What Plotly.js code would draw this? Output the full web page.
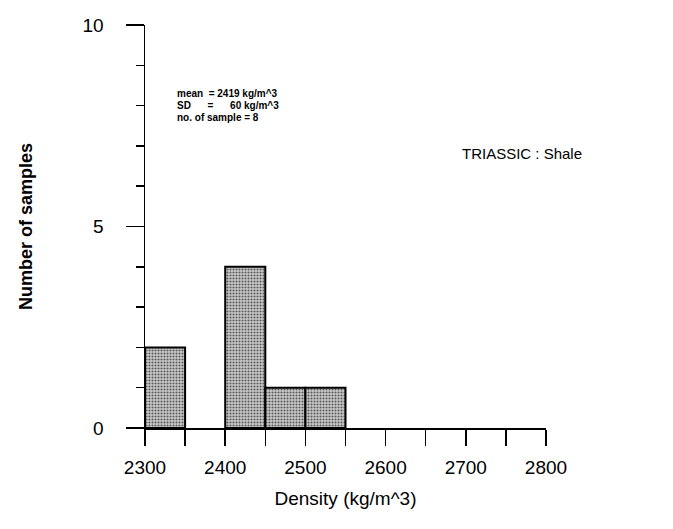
<!DOCTYPE html>
<html>
<head>
<meta charset="utf-8">
<script src="https://cdn.plot.ly/plotly-3.0.1.min.js"></script>
<style>html,body{margin:0;padding:0;background:#fff;}#chart{width:673px;height:529px;}</style>
</head>
<body>
<div id="chart"></div>
<script>
// Histogram bins (left edge, kg/m^3) and sample counts
const binLeft = [2300, 2350, 2400, 2450, 2500, 2550, 2600, 2650, 2700, 2750];
const counts  = [2, 0, 4, 1, 1, 0, 0, 0, 0, 0];
const binWidth = 50;
const xTickVals = [2300, 2350, 2400, 2450, 2500, 2550, 2600, 2650, 2700, 2750, 2800];
const xTickText = ["2300", "", "2400", "", "2500", "", "2600", "", "2700", "", "2800"];
const yTickVals = [0, 5, 10];
const yTickText = ["0", "5", "10"];
const statsLines = ["mean&nbsp;&nbsp;= 2419 kg/m^3", "SD&nbsp;&nbsp;&nbsp;&nbsp;&nbsp;&nbsp;=&nbsp;&nbsp;&nbsp;&nbsp;&nbsp;&nbsp;60 kg/m^3", "no. of sample = 8"];
const label = "TRIASSIC : Shale";

const bx = [], by = [];
binLeft.forEach((b, i) => { if (counts[i] > 0) { bx.push(b); by.push(counts[i]); } });

const trace = {
  type: "bar",
  x: bx, y: by,
  width: binWidth, offset: 0,
  marker: {
    color: "#c8c8c8",
    line: {color: "#000", width: 2},
    pattern: {shape: ".", fgcolor: "#5a5a5a", bgcolor: "#cccccc", size: 3, solidity: 0.4}
  },
  hoverinfo: "none"
};

const tickFont = {family: "Liberation Sans Narrow, Arial Narrow, sans-serif", size: 19, color: "#000"};
const statY = [0.829, 0.800, 0.771];

const annotations = statsLines.map((t, i) => ({
  xref: "paper", yref: "paper", x: 0.075, y: statY[i], xanchor: "left", yanchor: "middle",
  showarrow: false, align: "left", text: "<b>" + t + "</b>",
  font: {family: "Liberation Sans, Arial, sans-serif", size: 10, color: "#000"}
}));
annotations.push({xref: "paper", yref: "paper", x: 0.785, y: 0.68, xanchor: "left", yanchor: "middle", showarrow: false,
  text: label, font: {family: "Liberation Sans, Arial, sans-serif", size: 15, color: "#000"}});

const layout = {
  width: 673, height: 529,
  margin: {l: 145, r: 127, t: 25, b: 101},
  paper_bgcolor: "#fff", plot_bgcolor: "#fff",
  showlegend: false,
  bargap: 0,
  xaxis: {
    range: [2300, 2800], tickmode: "array", tickvals: xTickVals, ticktext: xTickText,
    ticks: "outside", ticklen: 16, tickwidth: 1.5, tickcolor: "#000",
    showline: true, linecolor: "#000", linewidth: 1.5, showgrid: false, zeroline: false,
    tickfont: tickFont, ticklabelstandoff: 6,
    title: {text: "Density (kg/m^3)", font: {family: "Liberation Sans, Arial, sans-serif", size: 19, color: "#000"}, standoff: 14}
  },
  yaxis: {
    range: [0, 10], tickmode: "array", tickvals: yTickVals, ticktext: yTickText,
    ticks: "outside", ticklen: 18, tickwidth: 1.5, tickcolor: "#000",
    minor: {dtick: 1, tick0: 0, ticks: "outside", ticklen: 8, tickwidth: 1.5, tickcolor: "#000", showgrid: false},
    showline: true, linecolor: "#000", linewidth: 1.5, showgrid: false, zeroline: false,
    tickfont: tickFont, ticklabelstandoff: 18,
    title: {text: "<b>Number of samples</b>", font: {family: "Liberation Sans, Arial, sans-serif", size: 18, color: "#000"}, standoff: 45}
  },
  annotations: annotations
};

Plotly.newPlot("chart", [trace], layout, {displayModeBar: false, staticPlot: true});
</script>
</body>
</html>
